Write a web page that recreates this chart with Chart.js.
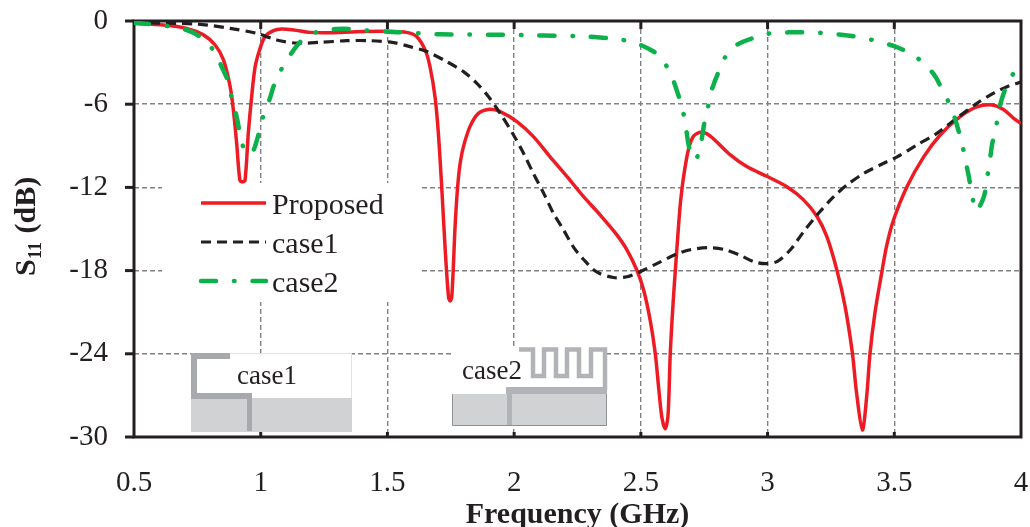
<!DOCTYPE html>
<html>
<head>
<meta charset="utf-8">
<title>S11 vs frequency</title>
<script src="https://cdn.jsdelivr.net/npm/chart.js@4"></script>
<style>
html, body { margin: 0; padding: 0; background: #fff; }
canvas { display: block; }
</style>
</head>
<body>
<canvas id="chart" width="1030" height="527"></canvas>
<script>
var seriesNames = ['Proposed', 'case1', 'case2']
var xTicks = [0.5, 1, 1.5, 2, 2.5, 3, 3.5, 4]
var yTicks = [0, -6, -12, -18, -24, -30]

var proposedFreq = [0.5, 0.616, 0.708, 0.774, 0.82, 0.853, 0.879, 0.892, 0.905, 0.918, 0.928, 0.938, 0.951, 0.964, 0.978, 0.997, 1.017, 1.05, 1.083, 1.13, 1.195, 1.274, 1.38, 1.497, 1.576, 1.616, 1.649, 1.668, 1.688, 1.701, 1.714, 1.728, 1.741, 1.747, 1.754, 1.767, 1.774, 1.78, 1.787, 1.8, 1.826, 1.859, 1.905, 1.945, 2.011, 2.076, 2.142, 2.208, 2.274, 2.34, 2.4, 2.445, 2.484, 2.511, 2.537, 2.557, 2.57, 2.583, 2.596, 2.607, 2.616, 2.627, 2.636, 2.649, 2.656, 2.668, 2.688, 2.708, 2.738, 2.774, 2.853, 2.918, 2.997, 3.076, 3.142, 3.195, 3.234, 3.274, 3.306, 3.335, 3.351, 3.374, 3.391, 3.404, 3.424, 3.45, 3.47, 3.497, 3.55, 3.616, 3.682, 3.76, 3.826, 3.886, 3.932, 3.97, 4]
var proposedS11 = [-0.17, -0.29, -0.53, -1, -1.73, -2.8, -4.7, -6.4, -8.8, -11.5, -11.6, -11.5, -8.1, -5.5, -3.3, -2, -1.13, -0.7, -0.58, -0.65, -0.82, -0.84, -0.77, -0.75, -0.82, -1.13, -2.1, -3.3, -5.5, -8.1, -11.9, -16.5, -19.9, -20.2, -19.9, -14.8, -12.7, -11.35, -10.26, -9.06, -7.6, -6.66, -6.37, -6.54, -7.26, -8.34, -9.8, -11.2, -12.67, -14, -15.3, -16.5, -17.96, -19.4, -21.6, -24, -26.4, -28.6, -29.4, -28.5, -24, -20.4, -18, -14.7, -13.15, -11.3, -9.25, -8.3, -8.03, -8.3, -9.66, -10.5, -11.2, -11.95, -12.9, -14.1, -15.55, -18, -20.6, -24, -26.8, -29.5, -27.1, -24, -21, -18.2, -16.2, -14.35, -11.95, -9.8, -8.2, -6.9, -6.2, -6.06, -6.4, -7, -7.4]

var case1Freq = [0.5, 0.747, 0.879, 0.984, 1.063, 1.142, 1.234, 1.339, 1.432, 1.524, 1.589, 1.655, 1.734, 1.8, 1.853, 1.899, 1.945, 1.997, 2.037, 2.076, 2.116, 2.155, 2.195, 2.234, 2.274, 2.326, 2.392, 2.445, 2.497, 2.563, 2.642, 2.695, 2.761, 2.827, 2.892, 2.945, 2.991, 3.037, 3.09, 3.142, 3.201, 3.261, 3.313, 3.379, 3.458, 3.511, 3.589, 3.668, 3.747, 3.826, 3.892, 3.945, 4]
var case1S11 = [-0.12, -0.22, -0.53, -0.89, -1.37, -1.6, -1.54, -1.42, -1.42, -1.56, -1.85, -2.2, -2.93, -3.65, -4.5, -5.46, -6.66, -8.2, -9.54, -11, -12.4, -13.87, -15.07, -16.3, -17.2, -18.1, -18.5, -18.44, -18.08, -17.5, -16.8, -16.5, -16.35, -16.47, -16.9, -17.35, -17.5, -17.35, -16.5, -15.2, -13.87, -12.67, -11.83, -11, -10.26, -9.8, -8.94, -8.1, -7, -5.94, -5.2, -4.74, -4.4]

var case2Freq = [0.5, 0.629, 0.708, 0.76, 0.813, 0.846, 0.872, 0.886, 0.905, 0.918, 0.936, 0.955, 0.971, 0.991, 1.008, 1.034, 1.053, 1.084, 1.122, 1.162, 1.225, 1.3, 1.359, 1.432, 1.504, 1.57, 1.642, 1.708, 1.78, 1.853, 1.918, 1.99, 2.06, 2.168, 2.267, 2.366, 2.405, 2.475, 2.55, 2.59, 2.623, 2.649, 2.666, 2.678, 2.692, 2.716, 2.738, 2.75, 2.765, 2.781, 2.807, 2.833, 2.882, 2.951, 3.011, 3.083, 3.155, 3.221, 3.291, 3.366, 3.425, 3.497, 3.563, 3.616, 3.662, 3.695, 3.724, 3.747, 3.767, 3.78, 3.794, 3.807, 3.823, 3.853, 3.866, 3.877, 3.886, 3.902, 3.912, 3.932, 3.966, 4]
var case2S11 = [-0.12, -0.36, -0.65, -1.13, -2.1, -3.3, -4.4, -5.6, -6.9, -8.1, -9.35, -9.6, -9.35, -8.2, -6.95, -5.7, -4.6, -3.4, -2.3, -1.4, -0.77, -0.58, -0.58, -0.7, -0.77, -0.84, -0.9, -0.96, -0.98, -0.98, -1, -1, -1.03, -1.06, -1.1, -1.23, -1.3, -1.56, -2.2, -2.93, -4.06, -5.4, -6.5, -7.7, -9.2, -10, -8.7, -7.4, -6.2, -4.9, -3.65, -2.6, -1.68, -1.18, -0.89, -0.82, -0.82, -0.87, -0.99, -1.18, -1.42, -1.8, -2.33, -3.05, -4, -5.2, -6.2, -7.5, -8.8, -10, -11.2, -12.55, -13.7, -12.7, -11.35, -10.1, -8.9, -7.6, -6.5, -5.2, -3.9, -3.05]

var red = '#ed1c24'
var black = '#231f20'
var green = '#0db14b'
var serif = '"Liberation Serif", "Times New Roman", serif'
var blackDash = [10, 6]
var greenDash = [15, 18, 0.5, 18]

function points(xs, ys) {
    return xs.map(function (x, i) { return { x: x, y: ys[i] } })
}

function line(ctx, pts) {
    ctx.beginPath()
    pts.forEach(function (p, i) {
        if (i == 0) ctx.moveTo(p[0], p[1])
        else ctx.lineTo(p[0], p[1])
    })
    ctx.stroke()
}

// the scales would otherwise reserve room for their outermost labels
function fixBox(s, size) {
    if (s.isHorizontal()) s.height = size
    else s.width = size
    s.paddingLeft = s.paddingRight = s.paddingTop = s.paddingBottom = 0
}

// white patch behind the legend, the two antenna sketches and the frame
var backdrop = {
    id: 'backdrop',
    beforeDatasetsDraw: function (chart) {
        var ctx = chart.ctx
        var a = chart.chartArea
        ctx.save()

        ctx.fillStyle = '#fff'
        ctx.fillRect(162, 183, 258, 119)

        // case1 sketch
        ctx.fillRect(191, 353, 161, 79)
        ctx.fillStyle = '#d1d2d4'
        ctx.fillRect(191, 398, 161, 34)
        ctx.strokeStyle = '#e3e3e5'
        ctx.lineWidth = 1
        line(ctx, [[230, 353.5], [351.5, 353.5], [351.5, 398]])
        ctx.strokeStyle = '#a7a9ac'
        ctx.lineWidth = 6
        line(ctx, [[230, 356], [194, 356], [194, 396], [252, 396]])
        ctx.lineWidth = 5
        line(ctx, [[249.5, 396], [249.5, 431]])

        // case2 sketch
        ctx.fillStyle = '#fff'
        ctx.fillRect(452, 347, 155, 79)
        ctx.fillStyle = '#d1d2d4'
        ctx.fillRect(452, 394, 155, 32)
        ctx.strokeStyle = '#b1b3b6'
        ctx.lineWidth = 4.5
        line(ctx, [[519, 349.5], [533, 349.5], [533, 376], [544, 376], [544, 349.5], [556, 349.5], [556, 376], [567, 376], [567, 349.5], [579, 349.5], [579, 376], [591, 376], [591, 349.5], [605, 349.5], [605, 390]])
        ctx.lineWidth = 7
        line(ctx, [[607, 390.5], [506, 390.5]])
        ctx.lineWidth = 5
        line(ctx, [[509.5, 388], [509.5, 425]])
        ctx.lineWidth = 1
        ctx.strokeStyle = '#8d8f92'
        line(ctx, [[452.5, 394], [452.5, 425.5], [606.5, 425.5], [606.5, 394]])

        // frame and tick marks
        ctx.strokeStyle = black
        ctx.lineWidth = 3
        ctx.strokeRect(a.left, a.top, a.right - a.left, a.bottom - a.top)
        yTicks.forEach(function (v) {
            var y = chart.scales.y.getPixelForValue(v)
            line(ctx, [[a.left - 9, y], [a.left, y]])
        })
        xTicks.slice(1, -1).forEach(function (v) {
            var x = chart.scales.x.getPixelForValue(v)
            line(ctx, [[x, a.top], [x, a.top + 8]])
            line(ctx, [[x, a.bottom], [x, a.bottom - 5]])
        })
        ctx.restore()
    },
    afterDatasetsDraw: function (chart) {
        var ctx = chart.ctx
        ctx.save()
        ctx.fillStyle = black
        ctx.textBaseline = 'alphabetic'
        ctx.textAlign = 'left'

        // legend
        ctx.font = '30px ' + serif
        var samples = [[red, [], 3.5, 'butt'], [black, blackDash, 3.2, 'butt'], [green, greenDash, 4.5, 'round']]
        samples.forEach(function (s, i) {
            var y = 203 + i * 39
            ctx.strokeStyle = s[0]
            ctx.setLineDash(s[1])
            ctx.lineWidth = s[2]
            ctx.lineCap = s[3]
            line(ctx, [[201, y], [266, y]])
            ctx.fillText(seriesNames[i], 272, y + 11)
        })
        ctx.setLineDash([])

        // labels inside the sketches
        ctx.font = '27px ' + serif
        ctx.fillText('case1', 237, 384)
        ctx.fillText('case2', 462, 379)

        // y axis title, drawn by hand for the subscript
        ctx.translate(35, 276)
        ctx.rotate(-Math.PI / 2)
        ctx.font = 'bold 30px ' + serif
        ctx.fillText('S', 0, 0)
        ctx.font = 'bold 18px ' + serif
        ctx.fillText('11', 17, 6)
        ctx.font = 'bold 30px ' + serif
        ctx.fillText(' (dB)', 35, 0)
        ctx.restore()
    }
}

new Chart(document.getElementById('chart'), {
    type: 'scatter',
    data: {
        datasets: [
            { label: seriesNames[0], data: points(proposedFreq, proposedS11), borderColor: red, borderWidth: 3.5, order: 3 },
            { label: seriesNames[1], data: points(case1Freq, case1S11), borderColor: black, borderWidth: 3.2, borderDash: blackDash, order: 2 },
            { label: seriesNames[2], data: points(case2Freq, case2S11), borderColor: green, borderWidth: 4.5, borderDash: greenDash, borderCapStyle: 'round', order: 1 }
        ].map(function (d) {
            d.showLine = true
            d.pointRadius = 0
            d.tension = 0.3
            return d
        })
    },
    options: {
        responsive: false,
        animation: false,
        layout: { padding: { top: 21, right: 9, left: 0, bottom: 0 } },
        plugins: { legend: { display: false }, tooltip: { enabled: false } },
        scales: {
            x: {
                type: 'linear',
                min: 0.5,
                max: 4,
                afterFit: function (s) { fixBox(s, 90) },
                afterBuildTicks: function (s) { s.ticks = xTicks.map(function (v) { return { value: v } }) },
                grid: { color: '#808285', lineWidth: 1.4, drawTicks: false },
                border: { display: false, dash: [5, 3] },
                ticks: {
                    padding: 29,
                    maxRotation: 0,
                    color: black,
                    font: { family: serif, size: 29 },
                    callback: function (v) { return String(v) }
                },
                title: {
                    display: true,
                    text: 'Frequency (GHz)',
                    color: black,
                    font: { family: serif, size: 30, weight: 'bold' },
                    padding: { top: 0, bottom: -6 }
                }
            },
            y: {
                min: -30,
                max: 0,
                afterFit: function (s) { fixBox(s, 134) },
                afterBuildTicks: function (s) { s.ticks = yTicks.map(function (v) { return { value: v } }) },
                grid: { color: '#808285', lineWidth: 1.4, drawTicks: false },
                border: { display: false, dash: [5, 3] },
                ticks: {
                    padding: 26,
                    color: black,
                    font: { family: serif, size: 29 },
                    callback: function (v) { return String(v) }
                }
            }
        }
    },
    plugins: [backdrop]
})
</script>
</body>
</html>
